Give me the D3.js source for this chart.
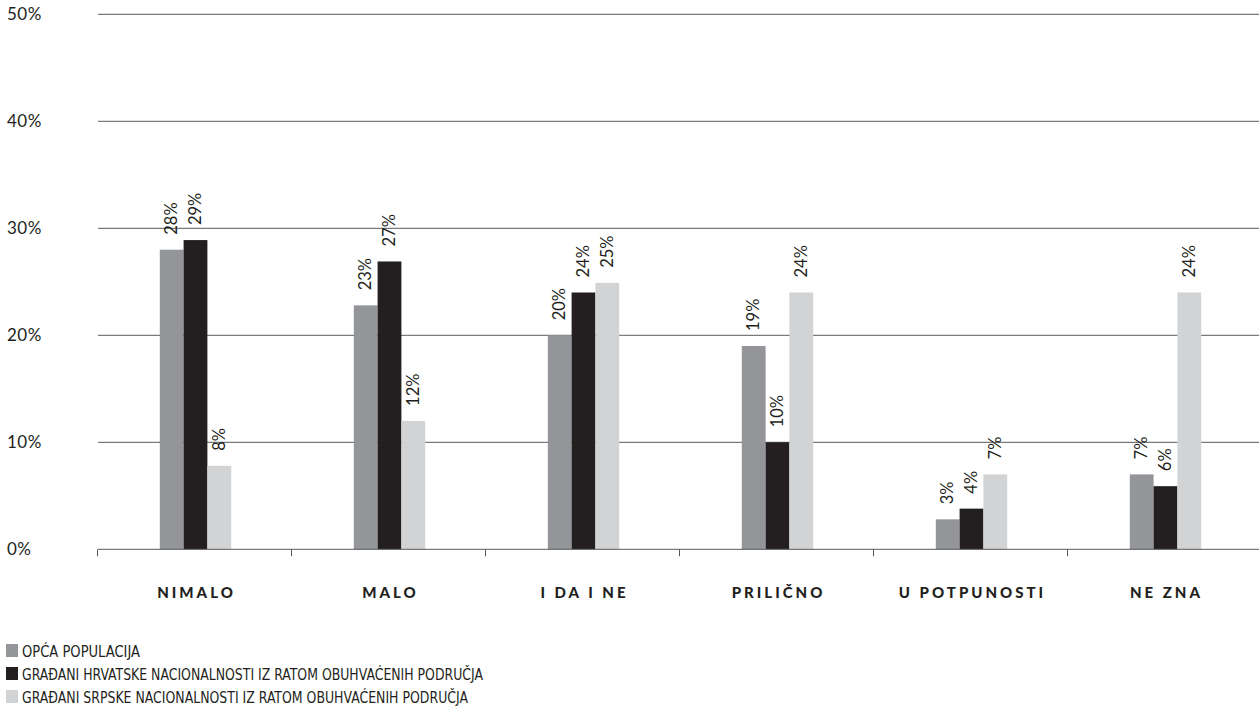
<!DOCTYPE html>
<html>
<head>
<meta charset="utf-8">
<script src="https://cdn.jsdelivr.net/npm/d3@7/dist/d3.min.js"></script>
<style>
  html, body { margin: 0; padding: 0; background: #fff; }
  svg { display: block; }
  text { font-family: "Lato", "Open Sans", sans-serif; fill: #231f20; }
  .legend text { font-family: "Liberation Sans Narrow", "DejaVu Sans Condensed", "Lato", sans-serif; }
</style>
</head>
<body>
<svg id="chart" width="1259" height="708"></svg>
<script>
const categories = ["NIMALO", "MALO", "I DA I NE", "PRILIČNO", "U POTPUNOSTI", "NE ZNA"];
const seriesNames = [
  "OPĆA POPULACIJA",
  "GRAĐANI HRVATSKE NACIONALNOSTI IZ RATOM OBUHVAĆENIH PODRUČJA",
  "GRAĐANI SRPSKE NACIONALNOSTI IZ RATOM OBUHVAĆENIH PODRUČJA"
];
const opcaPopulacija = [28, 22.8, 20, 19, 2.8, 7];
const hrvatskeNac = [28.9, 26.9, 24, 10, 3.8, 5.9];
const srpskeNac = [7.8, 12, 24.9, 24, 7, 24];
const seriesValues = [opcaPopulacija, hrvatskeNac, srpskeNac];
const yTicks = [0, 10, 20, 30, 40, 50];
const colors = ["#939598", "#231f20", "#d1d3d4"];

const svg = d3.select("#chart");
const y = d3.scaleLinear().domain([0, 50]).range([549.3, 14.3]);
const x = d3.scaleBand().domain(categories).range([97.5, 1261.5]).padding(0);
const groupW = 71.4;
const xi = d3.scaleBand().domain(d3.range(3)).range([0, groupW]).padding(0);

// gridlines
svg.append("g").selectAll("line").data(yTicks.filter(d => d > 0)).join("line")
  .attr("x1", 98).attr("x2", 1259)
  .attr("y1", d => y(d)).attr("y2", d => y(d))
  .attr("stroke", "#58595b").attr("stroke-width", 1);

// y labels
svg.append("g").selectAll("text").data(yTicks).join("text")
  .attr("x", 7).attr("y", d => y(d)).attr("dy", "0.36em")
  .attr("font-size", 17)
  .attr("letter-spacing", "0.5px")
  .text(d => d + "%");

// bars
const rows = [];
categories.forEach((c, ci) => seriesValues.forEach((s, si) => rows.push({c, si, v: s[ci]})));
const gx = c => x(c) + (x.bandwidth() - groupW) / 2 + 1;

svg.append("g").selectAll("rect").data(rows).join("rect")
  .attr("x", d => gx(d.c) + xi(d.si))
  .attr("width", xi.bandwidth())
  .attr("y", d => y(d.v))
  .attr("height", d => y(0) - y(d.v))
  .attr("fill", d => colors[d.si]);

// value labels
svg.append("g").selectAll("text").data(rows).join("text")
  .attr("transform", d => `translate(${gx(d.c) + xi(d.si) + xi.bandwidth() / 2 + 5.5},${y(d.v) - 15}) rotate(-90)`)
  .attr("font-size", 16.5)
  .attr("text-anchor", "start")
  .text(d => Math.round(d.v) + "%");

// x axis
svg.append("line").attr("x1", 98).attr("x2", 1259).attr("y1", y(0)).attr("y2", y(0))
  .attr("stroke", "#58595b").attr("stroke-width", 1);
const bounds = categories.map(c => x(c)).concat([x.range()[1]]);
svg.append("g").selectAll("line").data(bounds).join("line")
  .attr("x1", d => d).attr("x2", d => d)
  .attr("y1", y(0)).attr("y2", y(0) + 7)
  .attr("stroke", "#58595b").attr("stroke-width", 1);

svg.append("g").selectAll("text").data(categories).join("text")
  .attr("x", d => x(d) + x.bandwidth() / 2 + 2)
  .attr("y", 598)
  .attr("text-anchor", "middle")
  .attr("font-size", 15).attr("font-weight", 900)
  .attr("letter-spacing", "3px")
  .text(d => d);

// legend
const legendWidths = [118, 461, 446];
const lg = svg.append("g").attr("class", "legend").selectAll("g").data(seriesNames).join("g")
  .attr("transform", (d, i) => `translate(6,${644 + i * 23})`);
lg.append("rect").attr("width", 12).attr("height", 13).attr("fill", (d, i) => colors[i]);
lg.append("text").attr("x", 16).attr("y", 12.5)
  .attr("font-size", 15)
  .text(d => d)
  .each(function(d, i) {
    d3.select(this).attr("textLength", legendWidths[i]).attr("lengthAdjust", "spacingAndGlyphs");
  });
</script>
</body>
</html>
